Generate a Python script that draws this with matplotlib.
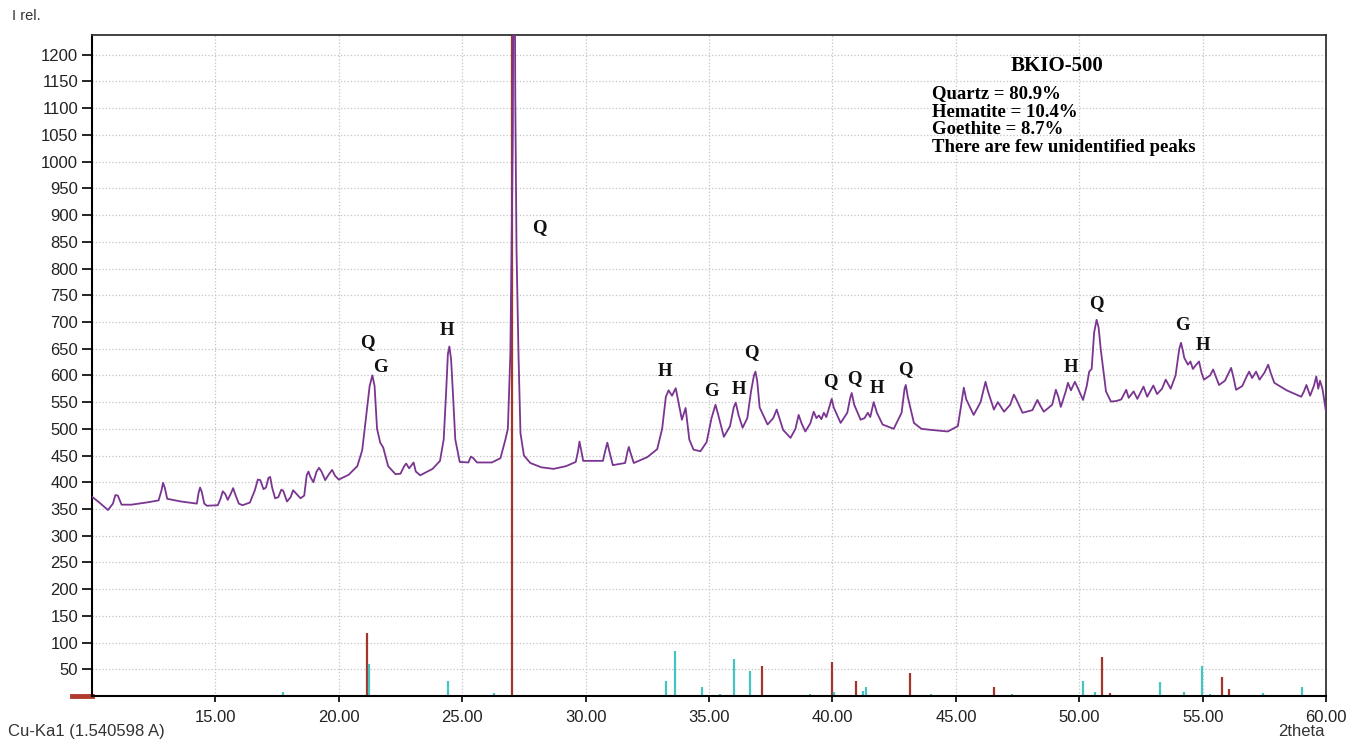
import matplotlib.pyplot as plt

two_theta = [10.0, 10.3, 10.65, 10.85, 10.95, 11.05, 11.2, 11.6, 12.2, 12.7, 12.82, 12.88, 12.95, 13.05,
             13.6, 14.25, 14.32, 14.38, 14.45, 14.55, 14.66, 15.1, 15.2, 15.3, 15.4, 15.5, 15.62, 15.72,
             15.8, 15.95, 16.1, 16.4, 16.6, 16.72, 16.82, 16.95, 17.05, 17.15, 17.22, 17.3, 17.42, 17.55,
             17.67, 17.75, 17.9, 18.05, 18.15, 18.25, 18.45, 18.6, 18.7, 18.77, 18.85, 18.97, 19.1, 19.2,
             19.3, 19.45, 19.6, 19.73, 19.85, 20.0, 20.4, 20.75, 20.95, 21.1, 21.25, 21.36, 21.45, 21.55,
             21.68, 21.8, 22.0, 22.3, 22.5, 22.65, 22.73, 22.85, 22.95, 23.03, 23.12, 23.3, 23.8, 24.1,
             24.25, 24.35, 24.42, 24.48, 24.55, 24.62, 24.72, 24.9, 25.25, 25.35, 25.45, 25.6, 26.2, 26.55,
             26.75, 26.85, 26.95, 27.0, 27.05, 27.1, 27.15, 27.2, 27.28, 27.36, 27.5, 27.76, 28.2, 28.7,
             29.2, 29.6, 29.7, 29.75, 29.82, 29.9, 30.7, 30.8, 30.88, 30.95, 31.1, 31.6, 31.7, 31.75,
             31.82, 31.95, 32.5, 32.9, 33.1, 33.25, 33.36, 33.5, 33.65, 33.78, 33.9, 34.05, 34.2, 34.37,
             34.65, 34.9, 35.1, 35.26, 35.35, 35.6, 35.85, 36.0, 36.08, 36.2, 36.36, 36.55, 36.7, 36.82,
             36.88, 36.95, 37.05, 37.37, 37.6, 37.74, 37.85, 38.0, 38.3, 38.5, 38.63, 38.75, 38.9, 39.1,
             39.24, 39.35, 39.45, 39.55, 39.65, 39.75, 39.9, 39.97, 40.05, 40.33, 40.6, 40.72, 40.78, 40.88,
             41.14, 41.3, 41.43, 41.53, 41.67, 41.8, 42.03, 42.48, 42.8, 42.92, 42.97, 43.05, 43.3, 43.6,
             43.98, 44.67, 45.08, 45.2, 45.32, 45.42, 45.72, 46.0, 46.2, 46.3, 46.54, 46.7, 46.95, 47.2,
             47.35, 47.45, 47.7, 48.1, 48.3, 48.4, 48.56, 48.9, 49.05, 49.15, 49.25, 49.45, 49.54, 49.66,
             49.82, 49.95, 50.15, 50.3, 50.4, 50.5, 50.6, 50.7, 50.78, 50.87, 51.08, 51.28, 51.5, 51.7,
             51.9, 52.0, 52.2, 52.35, 52.6, 52.75, 53.0, 53.15, 53.35, 53.5, 53.7, 53.9, 54.05, 54.12,
             54.2, 54.25, 54.4, 54.5, 54.6, 54.7, 54.85, 54.95, 55.05, 55.3, 55.42, 55.55, 55.66, 55.9,
             56.15, 56.25, 56.35, 56.6, 56.8, 56.88, 57.0, 57.16, 57.3, 57.5, 57.65, 57.75, 57.9, 58.4,
             58.99, 59.1, 59.2, 59.35, 59.5, 59.6, 59.68, 59.75, 59.85, 59.95, 60.0]
intensity = [373, 362, 348, 360, 376, 375, 358, 358, 362, 366, 385, 399, 390, 369,
             364, 360, 380, 390, 382, 360, 356, 357, 368, 383, 378, 367, 378, 389,
             378, 360, 357, 362, 385, 405, 404, 387, 390, 408, 410, 390, 370, 372,
             386, 384, 364, 372, 385, 380, 370, 375, 413, 420, 410, 400, 420, 427,
             420, 404, 415, 423, 412, 405, 414, 430, 460, 520, 580, 600, 580, 500,
             474, 465, 430, 415, 416, 430, 435, 426, 432, 437, 420, 413, 425, 440,
             480, 570, 640, 654, 630, 570, 480, 438, 437, 448, 445, 437, 437, 445,
             480, 500, 640, 835, 1050, 1700, 1120, 835, 640, 492, 450, 436, 428, 425,
             430, 438, 460, 476, 460, 440, 440, 460, 474, 460, 432, 436, 458, 466,
             455, 436, 447, 462, 500, 560, 572, 562, 576, 545, 517, 539, 480, 461,
             458, 475, 520, 545, 530, 485, 505, 540, 549, 525, 502, 520, 570, 600,
             607, 590, 540, 508, 520, 536, 520, 498, 483, 500, 526, 510, 495, 510,
             532, 520, 525, 518, 530, 522, 545, 556, 540, 511, 530, 558, 567, 545,
             517, 520, 530, 522, 550, 530, 508, 500, 530, 575, 582, 560, 511, 500,
             498, 495, 505, 540, 577, 555, 526, 550, 588, 570, 536, 550, 532, 545,
             564, 555, 530, 535, 554, 545, 532, 545, 573, 560, 541, 570, 586, 572,
             588, 575, 554, 580, 607, 612, 680, 704, 690, 648, 570, 551, 552, 555,
             573, 558, 570, 556, 579, 560, 581, 565, 575, 592, 575, 600, 650, 661,
             645, 633, 620, 626, 612, 618, 626, 605, 592, 600, 611, 595, 582, 590,
             614, 595, 573, 580, 600, 607, 595, 607, 592, 605, 620, 605, 586, 572,
             560, 570, 582, 562, 580, 598, 575, 590, 575, 545, 530]

# reference patterns (stick lines)
quartz_pos = [21.15, 27.03, 37.13, 39.97, 40.94, 43.13, 46.54, 50.92, 51.24, 55.78, 56.07]
quartz_int = [118, 1300, 56, 64, 28, 43, 17, 73, 5, 35, 13]
other_pos = [17.75, 21.23, 24.43, 26.3, 33.24, 33.64, 34.7, 35.43, 36.0, 36.64, 39.07, 40.05, 41.22,
             41.35, 43.98, 47.27, 48.03, 50.15, 50.63, 53.27, 54.24, 54.97, 55.3, 57.45, 58.3, 59.03]
other_int = [8, 60, 28, 6, 28, 84, 17, 4, 69, 47, 3, 7, 9,
             17, 4, 3, 2, 28, 8, 26, 8, 56, 3, 5, 2, 17]

# peak labels
label_txt = ['Q', 'G', 'H', 'Q', 'H', 'G', 'H', 'Q', 'Q', 'Q', 'H', 'Q', 'H', 'Q', 'G', 'H']
label_x = [21.15, 21.68, 24.4, 28.13, 33.2, 35.1, 36.2, 36.72, 39.93, 40.9, 41.8, 42.97, 49.66, 50.7, 54.16, 55.0]
label_y = [661, 614, 684, 877, 607, 569, 573, 642, 588, 594, 575, 611, 614, 734, 693, 656]

info_lines = ['Quartz = 80.9%', 'Hematite = 10.4%', 'Goethite = 8.7%', 'There are few unidentified peaks']

fig = plt.figure(figsize=(13.56, 7.40), dpi=100)
ax = fig.add_axes([0.0678, 0.0595, 0.9102, 0.8932])

ax.vlines(quartz_pos, 0, quartz_int, color='#a3352d', lw=1.6, zorder=2)
ax.vlines(other_pos, 0, other_int, color='#45c4c4', lw=1.6, zorder=2)
ax.plot(two_theta, intensity, color='#7a3590', lw=1.3, zorder=3)

for t, x, y in zip(label_txt, label_x, label_y):
    ax.text(x, y, t, ha='center', va='center', fontsize=13.5, fontweight='bold',
            family='Liberation Serif', color='#111111')

ax.set_xlim(10, 60)
ax.set_ylim(0, 1237)
ax.set_xticks(range(15, 61, 5))
ax.set_xticklabels(['%.2f' % v for v in range(15, 61, 5)])
ax.set_yticks(range(50, 1201, 50))
ax.tick_params(axis='y', length=7, width=1.2, pad=3, labelsize=12, labelcolor='#222222')
ax.tick_params(axis='x', length=4, width=1.2, pad=6, labelsize=12, labelcolor='#222222')
for lab in ax.get_xticklabels() + ax.get_yticklabels():
    lab.set_family('Liberation Sans')
ax.grid(True, ls=':', color='#c4c4c4', lw=0.9)
ax.set_axisbelow(True)
for s in ['left', 'bottom']:
    ax.spines[s].set_linewidth(1.5)
for s in ['top', 'right']:
    ax.spines[s].set_linewidth(1.3)
    ax.spines[s].set_color('#333333')

# zero marker left of the axis
ax.plot([-0.016, 0], [0, 0], transform=ax.transAxes, clip_on=False, color='#b03a2e', lw=3.5)

ax.text(0.782, 0.953, 'BKIO-500', transform=ax.transAxes, ha='center', va='center',
        fontsize=15, fontweight='bold', family='Liberation Serif')
for i, line in enumerate(info_lines):
    ax.text(0.6807, 0.9107 - i * 0.0272, line, transform=ax.transAxes, ha='left', va='center',
            fontsize=13.5, fontweight='bold', family='Liberation Serif')

fig.text(0.009, 0.978, 'I rel.', fontsize=10.5, family='Liberation Sans', color='#333333', va='center')
fig.text(0.006, 0.011, 'Cu-Ka1 (1.540598 A)', fontsize=12, family='Liberation Sans', color='#333333',
         va='center')
fig.text(0.977, 0.011, '2theta', fontsize=12, family='Liberation Sans', color='#333333',
         va='center', ha='right')

fig.savefig('out.png', dpi=100)
